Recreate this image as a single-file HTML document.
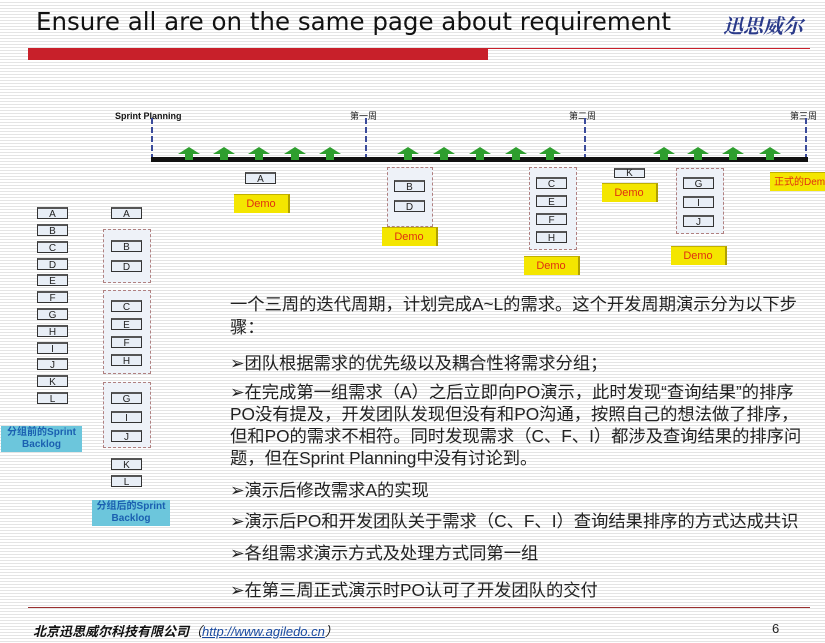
<!DOCTYPE html>
<html><head><meta charset="utf-8"><style>
body{margin:0;width:825px;height:643px;overflow:hidden;position:relative;font-family:"Liberation Sans","Noto Sans CJK SC",sans-serif;
background:repeating-linear-gradient(to bottom,#fff 0,#fff 2px,#e4e4e4 2px,#e4e4e4 3px);}
.a{position:absolute}
.b{position:absolute;width:31px;height:12px;background:#e8eef6;border:1px solid #333;border-top:2px solid #555;font-size:10px;line-height:11px;text-align:center;color:#222;box-sizing:border-box}
.g{position:absolute;background:#eef2f8;border:1px dashed #b08080;box-sizing:border-box}
.d{position:absolute;width:56px;height:19px;background:#f4e600;color:#e03010;font-size:11px;line-height:19px;text-align:center;border-right:2px solid #b0a000;border-top:1px solid #c0b000;box-sizing:border-box;white-space:nowrap;overflow:hidden}
.v{position:absolute;top:118px;height:42px;border-left:2px dashed #3a4a9a}
.wk{position:absolute;top:109px;font-size:9px;color:#222;white-space:nowrap}
.ar{position:absolute;top:147px;width:0;height:0;border-left:11px solid transparent;border-right:11px solid transparent;border-bottom:7px solid #2e9e2e}
.ar:after{content:"";position:absolute;left:-4px;top:7px;width:8px;height:6px;background:#2e9e2e}
.t{position:absolute;left:230px;font-size:17.3px;color:#222;white-space:nowrap;font-family:"Liberation Sans","Noto Sans CJK SC",sans-serif}
.lab{position:absolute;background:#6cc6dc;color:#1a5fb0;font-size:10px;font-weight:bold;text-align:center;line-height:12px;padding-top:1px;box-sizing:border-box;white-space:nowrap}
</style></head><body>
<div class="a" style="left:36px;top:7px;font-size:24.5px;color:#111;font-family:'DejaVu Sans',sans-serif;white-space:nowrap">Ensure all are on the same page about requirement</div>
<div class="a" style="left:723px;top:10px;font-size:20px;color:#2a3a8a;font-weight:bold;font-style:italic;font-family:'Noto Serif CJK SC',serif">迅思威尔</div>
<div class="a" style="left:28px;top:48px;width:460px;height:12px;background:#c8202a"></div>
<div class="a" style="left:488px;top:48px;width:322px;height:1px;background:#c8202a"></div>

<div class="a" style="left:115px;top:111px;font-size:9px;font-weight:bold;color:#111;white-space:nowrap">Sprint Planning</div>
<div class="wk" style="left:350px">第一周</div>
<div class="wk" style="left:569px">第二周</div>
<div class="wk" style="left:790px">第三周</div>
<div class="v" style="left:151px"></div><div class="v" style="left:365px"></div><div class="v" style="left:584px"></div><div class="v" style="left:805px"></div>
<div class="a" style="left:151px;top:157px;width:657px;height:5px;background:#111"></div>
<div class="ar" style="left:178px"></div><div class="ar" style="left:213px"></div><div class="ar" style="left:248px"></div><div class="ar" style="left:284px"></div><div class="ar" style="left:319px"></div>
<div class="ar" style="left:397px"></div><div class="ar" style="left:433px"></div><div class="ar" style="left:469px"></div><div class="ar" style="left:505px"></div><div class="ar" style="left:539px"></div>
<div class="ar" style="left:653px"></div><div class="ar" style="left:687px"></div><div class="ar" style="left:722px"></div><div class="ar" style="left:759px"></div>

<div class="b" style="left:245px;top:172px">A</div>
<div class="d" style="left:234px;top:194px">Demo</div>
<div class="g" style="left:387px;top:167px;width:46px;height:60px"></div>
<div class="b" style="left:394px;top:180px">B</div><div class="b" style="left:394px;top:200px">D</div>
<div class="d" style="left:382px;top:227px">Demo</div>
<div class="g" style="left:529px;top:167px;width:48px;height:83px"></div>
<div class="b" style="left:536px;top:177px">C</div><div class="b" style="left:536px;top:195px">E</div><div class="b" style="left:536px;top:213px">F</div><div class="b" style="left:536px;top:231px">H</div>
<div class="d" style="left:524px;top:256px">Demo</div>
<div class="b" style="left:614px;top:168px;height:10px;line-height:8px">K</div>
<div class="d" style="left:602px;top:183px">Demo</div>
<div class="g" style="left:676px;top:168px;width:48px;height:66px"></div>
<div class="b" style="left:683px;top:177px">G</div><div class="b" style="left:683px;top:196px">I</div><div class="b" style="left:683px;top:215px">J</div>
<div class="d" style="left:671px;top:246px">Demo</div>
<div class="d" style="left:770px;top:172px;width:60px;font-size:10px;text-align:left;padding-left:4px">正式的Demo</div>

<div class="b" style="left:37px;top:207px">A</div><div class="b" style="left:37px;top:224px">B</div><div class="b" style="left:37px;top:241px">C</div><div class="b" style="left:37px;top:258px">D</div><div class="b" style="left:37px;top:274px">E</div><div class="b" style="left:37px;top:291px">F</div><div class="b" style="left:37px;top:308px">G</div><div class="b" style="left:37px;top:325px">H</div><div class="b" style="left:37px;top:342px">I</div><div class="b" style="left:37px;top:358px">J</div><div class="b" style="left:37px;top:375px">K</div><div class="b" style="left:37px;top:392px">L</div>
<div class="lab" style="left:1px;top:426px;width:81px;height:26px">分组前的Sprint<br>Backlog</div>

<div class="b" style="left:111px;top:207px">A</div>
<div class="g" style="left:103px;top:229px;width:48px;height:54px"></div>
<div class="b" style="left:111px;top:240px">B</div><div class="b" style="left:111px;top:260px">D</div>
<div class="g" style="left:103px;top:290px;width:48px;height:84px"></div>
<div class="b" style="left:111px;top:300px">C</div><div class="b" style="left:111px;top:318px">E</div><div class="b" style="left:111px;top:336px">F</div><div class="b" style="left:111px;top:354px">H</div>
<div class="g" style="left:103px;top:382px;width:48px;height:66px"></div>
<div class="b" style="left:111px;top:392px">G</div><div class="b" style="left:111px;top:411px">I</div><div class="b" style="left:111px;top:430px">J</div>
<div class="b" style="left:111px;top:458px">K</div><div class="b" style="left:111px;top:475px">L</div>
<div class="lab" style="left:92px;top:500px;width:78px;height:26px">分组后的Sprint<br>Backlog</div>

<div class="t" style="top:290px">一个三周的迭代周期，计划完成A~L的需求。这个开发周期演示分为以下步</div>
<div class="t" style="top:313px">骤：</div>
<div class="t" style="top:349px">➢团队根据需求的优先级以及耦合性将需求分组；</div>
<div class="t" style="top:378px">➢在完成第一组需求（A）之后立即向PO演示，此时发现“查询结果”的排序</div>
<div class="t" style="top:400px">PO没有提及，开发团队发现但没有和PO沟通，按照自己的想法做了排序，</div>
<div class="t" style="top:422px">但和PO的需求不相符。同时发现需求（C、F、I）都涉及查询结果的排序问</div>
<div class="t" style="top:444px">题，但在Sprint Planning中没有讨论到。</div>
<div class="t" style="top:476px">➢演示后修改需求A的实现</div>
<div class="t" style="top:507px">➢演示后PO和开发团队关于需求（C、F、I）查询结果排序的方式达成共识</div>
<div class="t" style="top:539px">➢各组需求演示方式及处理方式同第一组</div>
<div class="t" style="top:576px">➢在第三周正式演示时PO认可了开发团队的交付</div>

<div class="a" style="left:28px;top:607px;width:782px;height:1px;background:#9a3030"></div>
<div class="a" style="left:33px;top:621px;font-size:13px;font-style:italic;color:#111;white-space:nowrap"><b>北京迅思威尔科技有限公司</b>（<span style="color:#1a4aa0;text-decoration:underline">http://www.agiledo.cn</span>）</div>
<div class="a" style="left:772px;top:621px;font-size:13px;color:#222">6</div>
</body></html>
